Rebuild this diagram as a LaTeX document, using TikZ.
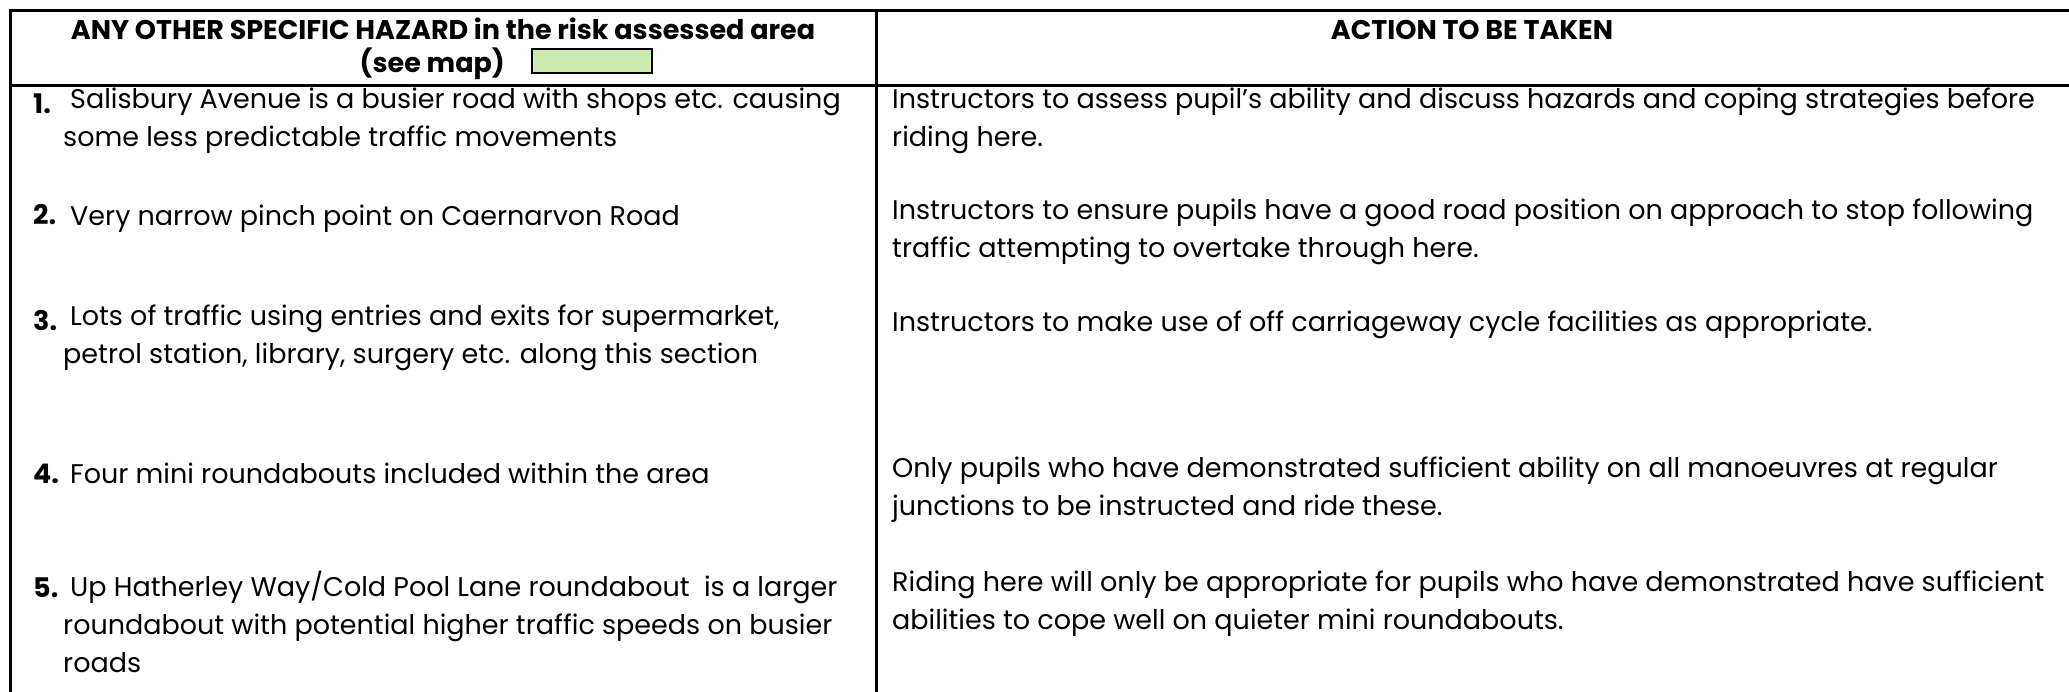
\documentclass[tikz,border=0pt]{standalone}
\usepackage{fontspec}
\setmainfont{Poppins}
\usetikzlibrary{positioning}
\definecolor{mapgreen}{HTML}{CDEBB0}
\newcommand{\bodyfont}{\fontsize{27}{38}\selectfont}
\tikzset{
        x=1pt, y=-1pt, % one unit is one pixel of the sheet
        rule/.style={line width=3pt}, % the lines of the table
        num/.style={anchor=base west, inner sep=0pt, font=\bodyfont\bfseries},
        cell/.style={anchor=north west, yshift=26.6pt, inner sep=0pt, align=left,
                     font=\bodyfont, execute at begin node=\strut}, % at = first baseline
        head/.style={anchor=base, inner sep=0pt, font=\bodyfont\bfseries},
    }

\begin{document}
\begin{tikzpicture}
    \useasboundingbox (0,0) rectangle (2069,692);
    % table rules
    \coordinate (tl) at (10,11);
    \coordinate (tr) at (2069,11);
    \coordinate (hl) at (10,86);
    \coordinate (hr) at (2069,86);
    \coordinate (dt) at (876,11);
    \draw[rule] (tr) -- (tl) -- (10,692);
    \draw[rule] (hl) -- (hr);
    \draw[rule] (dt) -- (876,692);

    % header
    \node[head] (h1) at (443,40) {ANY OTHER SPECIFIC HAZARD in the risk assessed area};
    \node[head, anchor=base east] (h2) at (505,73) {(see map)};
    \draw[fill=mapgreen, line width=1.5pt] (532,49) rectangle (652,73);
    \node[head] (h3) at (1472,40) {ACTION TO BE TAKEN};

    % hazards
    \node[num] (n1) at (33,114) {1.};
    \node[cell] (t1) at (63,114) {\hspace*{7pt}Salisbury Avenue is a busier road with shops etc. causing\\some less predictable traffic movements};
    \node[num] (n2) at (33,225) {2.};
    \node[cell] (t2) at (63,225) {\hspace*{7pt}Very narrow pinch point on Caernarvon Road};
    \node[num] (n3) at (33,331) {3.};
    \node[cell] (t3) at (63,331) {\hspace*{7pt}Lots of traffic using entries and exits for supermarket,\\petrol station, library, surgery etc. along this section};
    \node[num] (n4) at (33,483) {4.};
    \node[cell] (t4) at (63,483) {\hspace*{7pt}Four mini roundabouts included within the area};
    \node[num] (n5) at (33,597) {5.};
    \node[cell] (t5) at (63,597) {\hspace*{7pt}Up Hatherley Way/Cold Pool Lane roundabout\ \ is a larger\\roundabout with potential higher traffic speeds on busier\\roads};

    % actions
    \node[cell] (a1) at (892,114) {Instructors to assess pupil’s ability and discuss hazards and coping strategies before\\riding here.};
    \node[cell] (a2) at (892,225) {Instructors to ensure pupils have a good road position on approach to stop following\\traffic attempting to overtake through here.};
    \node[cell] (a3) at (892,331) {Instructors to make use of off carriageway cycle facilities as appropriate.};
    \node[cell] (a4) at (892,483) {Only pupils who have demonstrated sufficient ability on all manoeuvres at regular\\junctions to be instructed and ride these.};
    \node[cell] (a5) at (892,597) {Riding here will only be appropriate for pupils who have demonstrated have sufficient\\abilities to cope well on quieter mini roundabouts.};
\end{tikzpicture}
\end{document}
